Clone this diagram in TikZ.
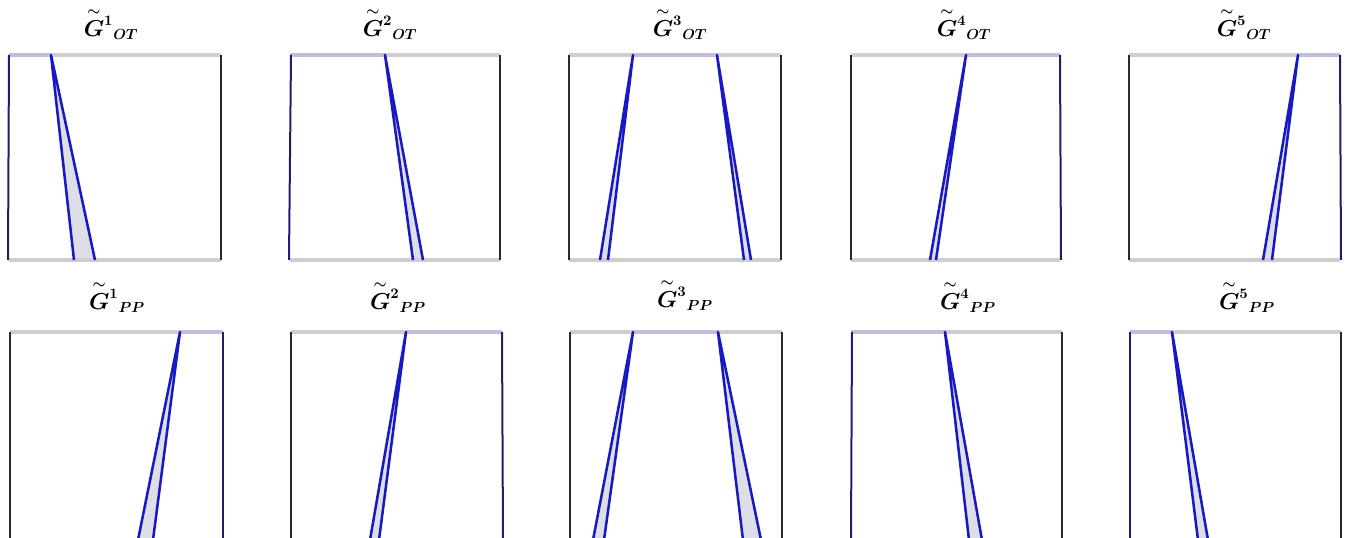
\documentclass[tikz,border=0pt]{standalone}
\usepackage{amsmath}
\newcommand{\tG}{{\vphantom{G}\smash{\overset{\sim}{G}}}}
\begin{document}
\begin{tikzpicture}[x=0.75pt,y=-0.75pt,
  side/.style={draw={rgb,255:red,40;green,40;blue,50},line width=1.0},
  bside/.style={draw={rgb,255:red,30;green,30;blue,110},line width=1.5},
  gedge/.style={draw={rgb,255:red,205;green,205;blue,210},line width=2.4},
  bedge/.style={draw={rgb,255:red,190;green,190;blue,222},line width=2.4},
  wfill/.style={fill={rgb,255:red,222;green,222;blue,230}},
  wline/.style={draw={rgb,255:red,25;green,25;blue,195},line width=1.9,line join=round},
  lab/.style={font=\fontsize{16}{19}\selectfont\boldmath,inner sep=0pt}]
\useasboundingbox (0,0) rectangle (1347,538);
\clip (0,0) rectangle (1347,538);
\fill[white] (0,0) rectangle (1347,538);

% ---------- labels ----------
\node[lab] (l1) at (111,28) {$\tG^{1}{}_{OT}$};
\node[lab] (l2) at (390,28) {$\tG^{2}{}_{OT}$};
\node[lab] (l3) at (680,28) {$\tG^{3}{}_{OT}$};
\node[lab] (l4) at (964,28) {$\tG^{4}{}_{OT}$};
\node[lab] (l5) at (1244,28) {$\tG^{5}{}_{OT}$};
\node[lab] (m1) at (117,301) {$\tG^{1}{}_{PP}$};
\node[lab] (m2) at (398,301) {$\tG^{2}{}_{PP}$};
\node[lab] (m3) at (685,299) {$\tG^{3}{}_{PP}$};
\node[lab] (m4) at (968,301) {$\tG^{4}{}_{PP}$};
\node[lab] (m5) at (1247,301) {$\tG^{5}{}_{PP}$};

% ---------- top row (y 55..260) ----------
% panel 1
\fill[wfill] (51,55) -- (74,260) -- (95,260) -- cycle;
\draw[gedge] (51,55) -- (221,55);
\draw[bedge] (9,55) -- (51,55);
\draw[gedge] (9,260) -- (221,260);
\draw[bside] (9,55) -- (8,260);
\draw[side] (221,55) -- (221,260);
\draw[wline] (74,260) -- (51,55) -- (95,260);
% panel 2
\fill[wfill] (385,55) -- (413,260) -- (423,260) -- cycle;
\draw[gedge] (385,55) -- (500,55);
\draw[bedge] (290,55) -- (385,55);
\draw[gedge] (290,260) -- (500,260);
\draw[bside] (291,55) -- (289,260);
\draw[side] (500,55) -- (500,260);
\draw[wline] (413,260) -- (385,55) -- (423,260);
% panel 3
\fill[wfill] (633,55) -- (600,260) -- (608,260) -- cycle;
\fill[wfill] (717,55) -- (744,260) -- (751,260) -- cycle;
\draw[gedge] (569,55) -- (633,55);
\draw[gedge] (717,55) -- (781,55);
\draw[bedge] (633,55) -- (717,55);
\draw[gedge] (569,260) -- (781,260);
\draw[side] (569,55) -- (569,260);
\draw[side] (781,55) -- (781,260);
\draw[wline] (600,260) -- (633,55) -- (608,260);
\draw[wline] (744,260) -- (717,55) -- (751,260);
% panel 4
\fill[wfill] (966,55) -- (930,260) -- (936,260) -- cycle;
\draw[gedge] (851,55) -- (966,55);
\draw[bedge] (966,55) -- (1060,55);
\draw[gedge] (851,260) -- (1060,260);
\draw[side] (851,55) -- (851,260);
\draw[bside] (1060,55) -- (1061,260);
\draw[wline] (930,260) -- (966,55) -- (936,260);
% panel 5
\fill[wfill] (1298,55) -- (1263,260) -- (1272,260) -- cycle;
\draw[gedge] (1129,55) -- (1298,55);
\draw[bedge] (1298,55) -- (1340,55);
\draw[gedge] (1129,260) -- (1340,260);
\draw[side] (1129,55) -- (1129,260);
\draw[bside] (1340,55) -- (1341,260);
\draw[wline] (1263,260) -- (1298,55) -- (1272,260);

% ---------- bottom row (y 332..) ----------
% panel 1
\fill[wfill] (180,332) -- (138,540) -- (153,540) -- cycle;
\draw[gedge] (10,332) -- (180,332);
\draw[bedge] (180,332) -- (223,332);
\draw[side] (10,332) -- (10,540);
\draw[bside] (223,332) -- (223,540);
\draw[wline] (138,540) -- (180,332) -- (153,540);
% panel 2
\fill[wfill] (406,332) -- (370,540) -- (379,540) -- cycle;
\draw[gedge] (291,332) -- (406,332);
\draw[bedge] (406,332) -- (502,332);
\draw[side] (291,332) -- (291,540);
\draw[bside] (502,332) -- (503,540);
\draw[wline] (370,540) -- (406,332) -- (379,540);
% panel 3
\fill[wfill] (633,332) -- (593,540) -- (604,540) -- cycle;
\fill[wfill] (718,332) -- (743,540) -- (761,540) -- cycle;
\draw[gedge] (570,332) -- (633,332);
\draw[gedge] (718,332) -- (782,332);
\draw[bedge] (633,332) -- (718,332);
\draw[side] (570,332) -- (570,540);
\draw[side] (782,332) -- (782,540);
\draw[wline] (593,540) -- (633,332) -- (604,540);
\draw[wline] (743,540) -- (718,332) -- (761,540);
% panel 4
\fill[wfill] (945,332) -- (969,540) -- (982,540) -- cycle;
\draw[bedge] (851,332) -- (945,332);
\draw[gedge] (945,332) -- (1062,332);
\draw[bside] (852,332) -- (851,540);
\draw[side] (1062,332) -- (1062,540);
\draw[wline] (969,540) -- (945,332) -- (982,540);
% panel 5
\fill[wfill] (1172,332) -- (1198,540) -- (1208,540) -- cycle;
\draw[bedge] (1130,332) -- (1172,332);
\draw[gedge] (1172,332) -- (1341,332);
\draw[bside] (1130,332) -- (1130,540);
\draw[side] (1341,332) -- (1341,540);
\draw[wline] (1198,540) -- (1172,332) -- (1208,540);
\end{tikzpicture}
\end{document}
